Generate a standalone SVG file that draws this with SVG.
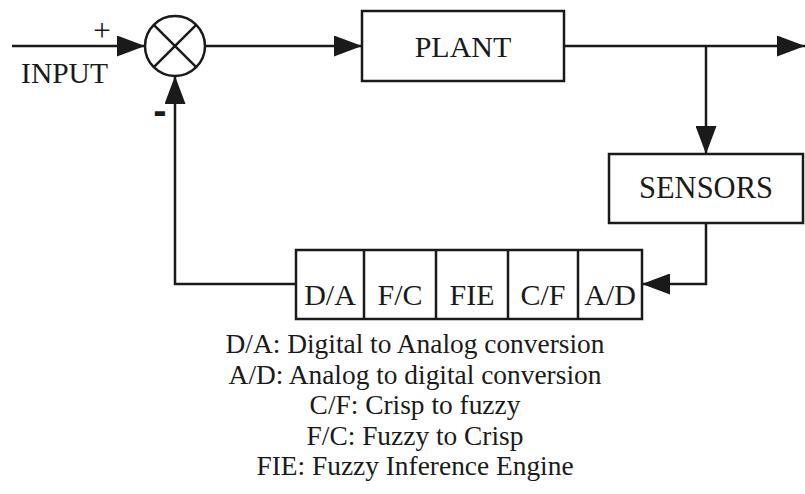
<svg xmlns="http://www.w3.org/2000/svg" width="805" height="494" viewBox="0 0 805 494">
<style>
.ln{fill:none;stroke:#1a1a1a;stroke-width:2.5}
.bx{fill:#fff;stroke:#1a1a1a;stroke-width:2.5}
</style>
<defs>
<marker id="ah" markerUnits="userSpaceOnUse" markerWidth="28" markerHeight="21" refX="28" refY="10.5" orient="auto">
<path d="M0,0 L28,10.5 L0,21 z" fill="#1a1a1a"/>
</marker>
</defs>
<rect width="805" height="494" fill="#fff"/>
<g id="connectors">
<path class="ln" d="M12,46 H145" marker-end="url(#ah)"/>
<path class="ln" d="M205,46 H362" marker-end="url(#ah)"/>
<path class="ln" d="M564,46 H805" marker-end="url(#ah)"/>
<path class="ln" d="M706,46 V154" marker-end="url(#ah)"/>
<path class="ln" d="M706,223 V284 H642" marker-end="url(#ah)"/>
<path class="ln" d="M296,284 H175 V76" marker-end="url(#ah)"/>
</g>
<g font-family="Liberation Serif, Times New Roman, serif" fill="#1a1a1a" text-anchor="middle">
<g id="sum">
<circle class="ln" cx="175" cy="46" r="30"/>
<path class="ln" d="M153.8,24.8 L196.2,67.2 M196.2,24.8 L153.8,67.2"/>
<text x="102" y="41" font-size="31">+</text>
<text x="160" y="124" font-size="40" font-family="Liberation Sans, Arial, sans-serif" font-weight="bold">-</text>
</g>
<g id="input-label">
<text x="64.5" y="83" font-size="29.5">INPUT</text>
</g>
<g id="plant">
<rect class="bx" x="362" y="11" width="202" height="70"/>
<text x="463" y="57" font-size="30">PLANT</text>
</g>
<g id="sensors">
<rect class="bx" x="609" y="154" width="194" height="69"/>
<text x="706" y="198" font-size="30.5">SENSORS</text>
</g>
<g id="controller">
<rect class="bx" x="296" y="250" width="346" height="69"/>
<path class="ln" d="M364,250 V319 M436,250 V319 M508,250 V319 M578,250 V319"/>
<g font-size="30">
<text x="330" y="305">D/A</text>
<text x="400" y="305">F/C</text>
<text x="472" y="305">FIE</text>
<text x="543" y="305">C/F</text>
<text x="610" y="305">A/D</text>
</g>
</g>
<g id="legend" font-size="27.4">
<text x="415" y="353">D/A: Digital to Analog conversion</text>
<text x="415" y="384">A/D: Analog to digital conversion</text>
<text x="415" y="414">C/F: Crisp to fuzzy</text>
<text x="415" y="445">F/C: Fuzzy to Crisp</text>
<text x="415" y="475">FIE: Fuzzy Inference Engine</text>
</g>
</g>
</svg>
